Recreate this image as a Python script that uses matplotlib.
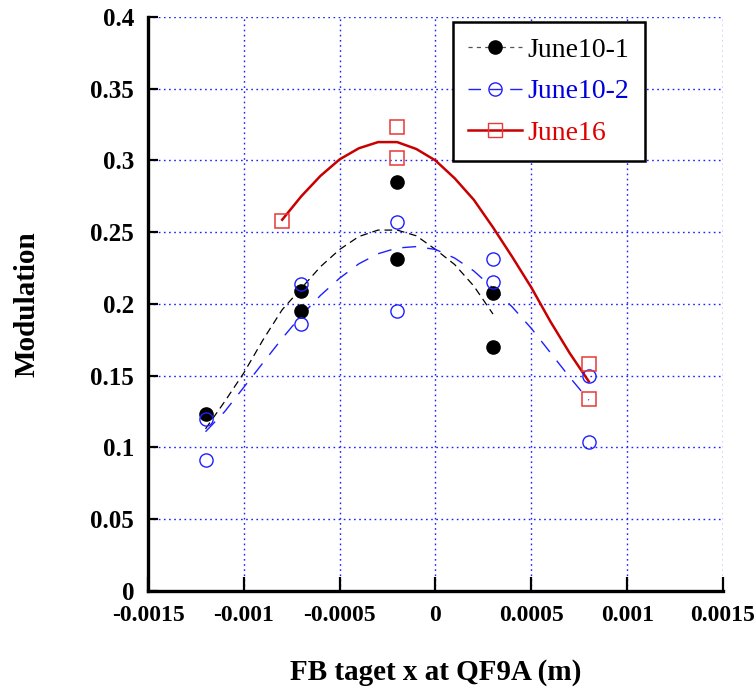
import matplotlib
matplotlib.use("Agg")
import matplotlib.pyplot as plt
from matplotlib.lines import Line2D
import numpy as np

# measured points
x_june10_1 = [-0.0012, -0.0007, -0.0007, -0.0002, -0.0002, 0.0003, 0.0003]
y_june10_1 = [0.123, 0.209, 0.195, 0.285, 0.231, 0.208, 0.170]

x_june10_2 = [-0.0012, -0.0012, -0.0007, -0.0007, -0.0002, -0.0002, 0.0003, 0.0003, 0.0008, 0.0008]
y_june10_2 = [0.120, 0.091, 0.214, 0.186, 0.257, 0.195, 0.231, 0.215, 0.150, 0.104]

x_june16 = [-0.0008, -0.0002, -0.0002, 0.0008, 0.0008]
y_june16 = [0.258, 0.323, 0.302, 0.158, 0.134]

# fit curves
fx_june10_1 = [-0.0012, -0.0011, -0.0010, -0.0009, -0.0008, -0.0007, -0.0006, -0.0005,
               -0.0004, -0.0003, -0.0002, -0.0001, 0.0, 0.0001, 0.0002, 0.0003]
fy_june10_1 = [0.113, 0.132, 0.152, 0.175, 0.196, 0.211, 0.226, 0.238,
               0.247, 0.2515, 0.2515, 0.2475, 0.238, 0.2275, 0.2125, 0.193]

fx_june10_2 = [-0.0012, -0.0011, -0.0010, -0.0009, -0.0008, -0.0007, -0.0006, -0.0005,
               -0.0004, -0.0003, -0.0002, -0.0001, 0.0, 0.0001, 0.0002, 0.0003,
               0.0004, 0.0005, 0.0006, 0.0007, 0.0008]
fy_june10_2 = [0.111, 0.125, 0.142, 0.159, 0.176, 0.192, 0.206, 0.218,
               0.228, 0.235, 0.239, 0.240, 0.238, 0.232, 0.223, 0.211,
               0.198, 0.183, 0.166, 0.149, 0.133]

fx_june16 = [-0.0008, -0.0007, -0.0006, -0.0005, -0.0004, -0.0003, -0.0002, -0.0001,
             0.0, 0.0001, 0.0002, 0.0003, 0.0004, 0.0005, 0.0006, 0.0007, 0.0008]
fy_june16 = [0.2587, 0.2751, 0.2893, 0.3008, 0.3085, 0.3128, 0.3128, 0.308,
             0.300, 0.2876, 0.2726, 0.2534, 0.2329, 0.2115, 0.1877, 0.1658, 0.146]

x_ticks = [-0.0015, -0.001, -0.0005, 0, 0.0005, 0.001, 0.0015]
x_tick_labels = ["-0.0015", "-0.001", "-0.0005", "0", "0.0005", "0.001", "0.0015"]
y_ticks = [0, 0.05, 0.1, 0.15, 0.2, 0.25, 0.3, 0.35, 0.4]
y_tick_labels = ["0", "0.05", "0.1", "0.15", "0.2", "0.25", "0.3", "0.35", "0.4"]

labels = ["June10-1", "June10-2", "June16"]

plt.rcParams['font.family'] = ['Liberation Serif', 'DejaVu Serif']
plt.rcParams['lines.scale_dashes'] = False

BLACK = "#000000"
BLUE = "#1f1fff"
RED_LINE = "#c80000"
RED_MARK = "#e83838"

fig = plt.figure(figsize=(7.56, 6.93), dpi=100)
ax = fig.add_axes([0.1958, 0.1472, 0.7605, 0.8283])

# curves
ax.plot(fx_june10_1, fy_june10_1, color=BLACK, lw=0.9, dashes=(5.5, 3.5), zorder=3)
ax.plot(fx_june10_2, fy_june10_2, color=BLUE, lw=1.0, dashes=(10, 8), zorder=3)
ax.plot(fx_june16, fy_june16, color=RED_LINE, lw=1.8, zorder=3)

# markers
ax.plot(x_june10_1, y_june10_1, 'o', ms=9.5, mfc=BLACK, mec=BLACK, zorder=4)
ax.plot(x_june10_2, y_june10_2, 'o', ms=9.5, mfc='none', mec=BLUE, mew=1.0, zorder=4)
ax.plot(x_june16, y_june16, 's', ms=9.5, mfc='none', mec=RED_MARK, mew=1.1, zorder=4)

ax.set_xlim(-0.0015, 0.0015)
ax.set_ylim(0, 0.4)
ax.set_xticks(x_ticks)
ax.set_xticklabels(x_tick_labels)
ax.set_yticks(y_ticks)
ax.set_yticklabels(y_tick_labels)

for lbl in ax.get_xticklabels():
    lbl.set_fontweight('bold')
    lbl.set_fontsize(17)
for lbl in ax.get_yticklabels():
    lbl.set_fontweight('bold')
    lbl.set_fontsize(18)

ax.tick_params(axis='x', direction='in', length=10, width=1.6, pad=10)
ax.tick_params(axis='y', direction='in', length=7, width=1.6, pad=10)

ax.grid(True, color="#2020ff", linestyle=(0, (1.2, 2.5)), linewidth=1.0)
ax.set_axisbelow(True)

for side in ['top', 'right']:
    ax.spines[side].set_visible(False)
for side in ['left', 'bottom']:
    ax.spines[side].set_linewidth(2.4)

ax.set_xlabel("FB taget x at QF9A (m)", fontsize=21, fontweight='bold', labelpad=24)
ax.set_ylabel("Modulation", fontsize=21, fontweight='bold', labelpad=36)

handles = [
    Line2D([], [], color="#555555", lw=0.9, dashes=(3, 3), marker='o', ms=9.5,
           mfc=BLACK, mec=BLACK),
    Line2D([], [], color=BLUE, lw=1.0, dashes=(9, 6), marker='o', ms=9.5,
           mfc='none', mec=BLUE),
    Line2D([], [], color=RED_LINE, lw=1.8, marker='s', ms=9.5,
           mfc='none', mec=RED_MARK),
]
leg = ax.legend(handles, labels, loc='upper left', bbox_to_anchor=(0.530, 0.991),
                fontsize=20, frameon=True, fancybox=False, framealpha=1,
                edgecolor='black', handlelength=1.95, handletextpad=0.2,
                labelspacing=0.58, borderpad=0.55, borderaxespad=0)
leg.get_frame().set_linewidth(1.8)
for txt, c in zip(leg.get_texts(), [BLACK, "#0000dd", "#dd0000"]):
    txt.set_color(c)

fig.savefig("out.png", dpi=100)
